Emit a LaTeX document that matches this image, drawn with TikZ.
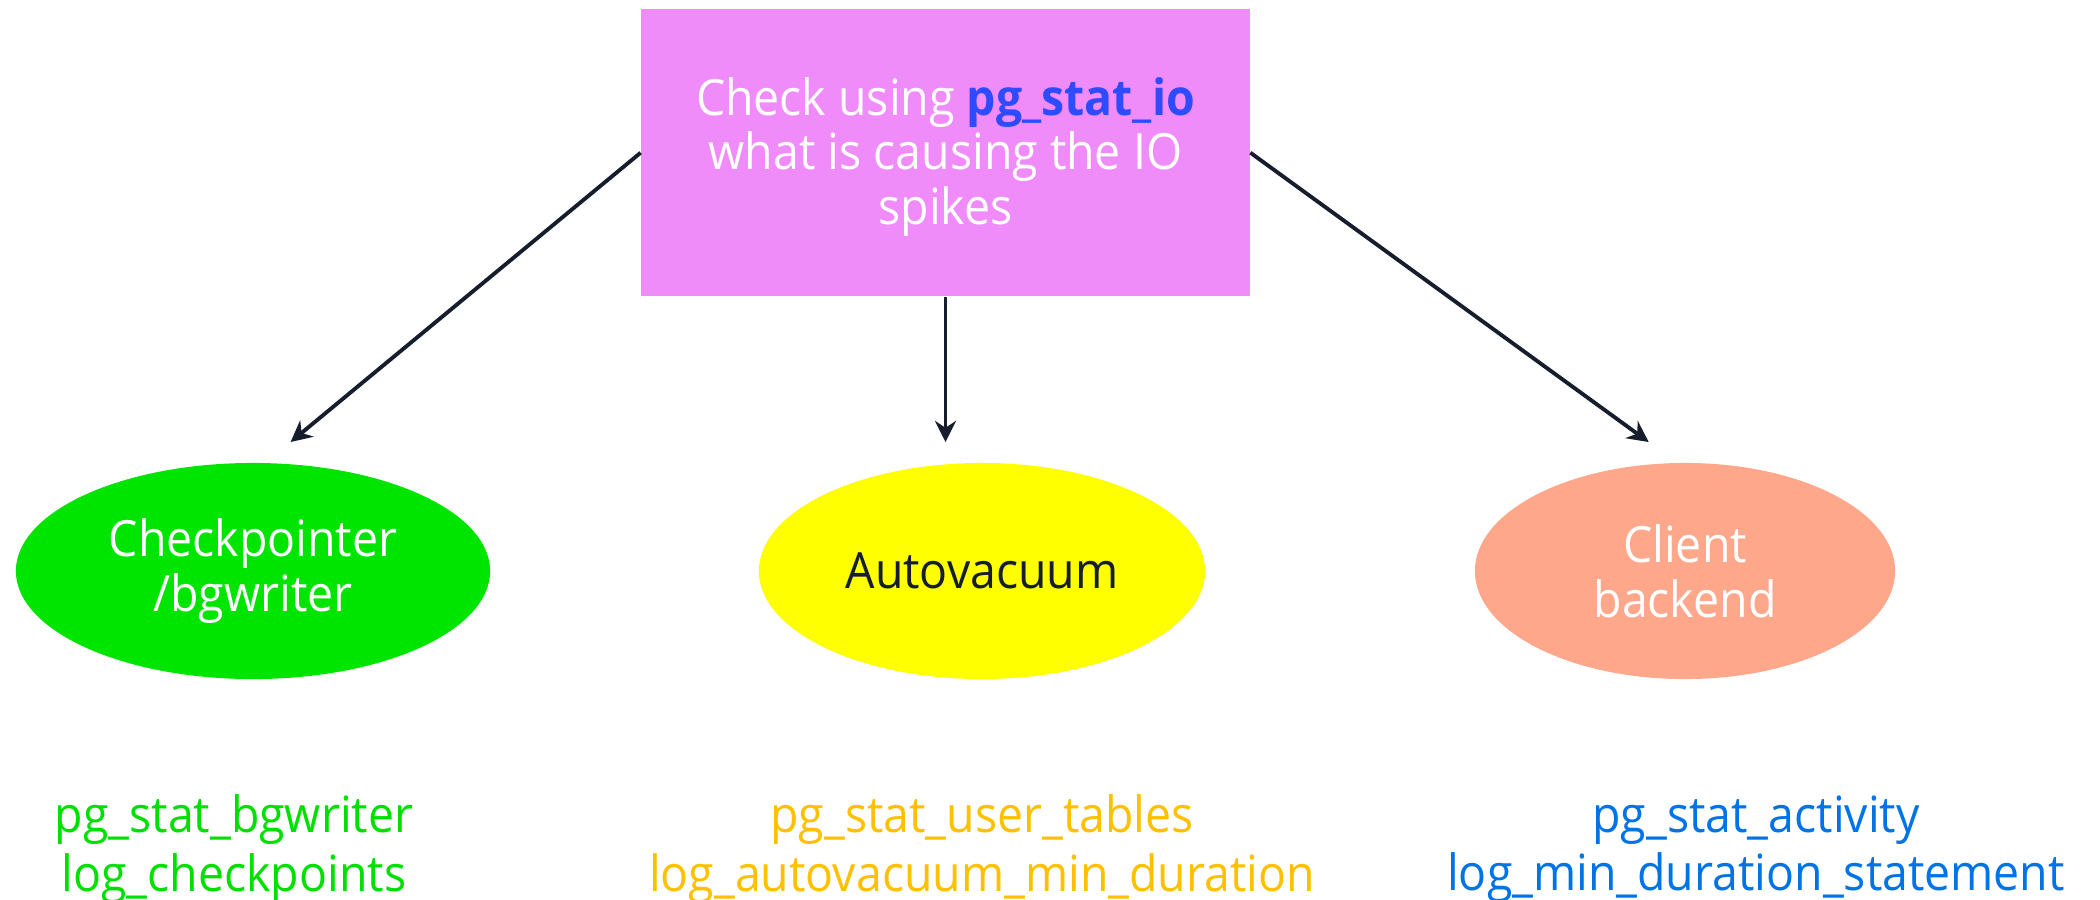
\documentclass[tikz,border=0pt]{standalone}
\usepackage{fontspec}
\setmainfont[FakeStretch=0.93]{Open Sans}
\usetikzlibrary{shapes.geometric,arrows.meta}
\definecolor{boxpink}{RGB}{240,140,250}
\definecolor{ioblue}{RGB}{47,75,255}
\definecolor{procgreen}{RGB}{0,229,0}
\definecolor{procyellow}{RGB}{255,255,0}
\definecolor{procsalmon}{RGB}{255,167,138}
\definecolor{inkdark}{RGB}{22,30,45}
\definecolor{txtgreen}{RGB}{0,224,0}
\definecolor{txtorange}{RGB}{255,192,0}
\definecolor{txtblue}{RGB}{0,115,230}
\tikzset{
  mainbox/.style={rectangle, fill=boxpink, minimum width=6.08cm, minimum height=2.87cm,
    inner sep=0pt, align=center, text=white, font=\fontsize{14.2}{15.6}\selectfont},
  procnode/.style={ellipse, inner sep=0pt, minimum height=2.16cm, align=center,
    font=\fontsize{14.2}{15.6}\selectfont},
  hintlabel/.style={align=center, font=\fontsize{14.2}{16.5}\selectfont},
  flow/.style={draw=inkdark, line width=1.1pt, -{Stealth[length=6pt,width=6pt]}}
}
\begin{document}
\begin{tikzpicture}[x=0.01cm,y=-0.01cm]
\useasboundingbox (0,0) rectangle (2100,899);

% question box
\node[mainbox] (check) at (945.5,152.7) {};
\node[align=center, text=white, font=\fontsize{14.2}{15.6}\selectfont] (checktext) at (945.5,157)
  {Check using \textcolor{ioblue}{\textbf{pg\_stat\_io}}\\what is causing the IO\\spikes};

% process kinds
\node[procnode, fill=procgreen, text=white, minimum width=4.74cm] (ckpt) at (253,571)
  {\raisebox{-3pt}{\parbox{3cm}{\centering Checkpointer\\/bgwriter}}};
\node[procnode, fill=procyellow, text=inkdark, minimum width=4.46cm] (avac) at (982,571)
  {Autovacuum};
\node[procnode, fill=procsalmon, text=white, minimum width=4.20cm] (client) at (1685,571)
  {\raisebox{-3pt}{\parbox{2.4cm}{\centering Client\\backend}}};

% arrow ends just above the ellipses
\coordinate (ckptin) at (290.6,442);
\coordinate (avacin) at (945.5,442);
\coordinate (clientin) at (1648.7,442);

\draw[flow] (check.west) -- (ckptin);
\draw[flow] (check.south) -- (avacin);
\draw[flow] (check.east) -- (clientin);

% where to look next
\node[hintlabel, text=txtgreen] (ckpthint) at (234,849)
  {pg\_stat\_bgwriter\\log\_checkpoints};
\node[hintlabel, text=txtorange] (avachint) at (982,849)
  {pg\_stat\_user\_tables\\log\_autovacuum\_min\_duration};
\node[hintlabel, text=txtblue] (clienthint) at (1756,849)
  {pg\_stat\_activity\\log\_min\_duration\_statement};
\end{tikzpicture}
\end{document}
